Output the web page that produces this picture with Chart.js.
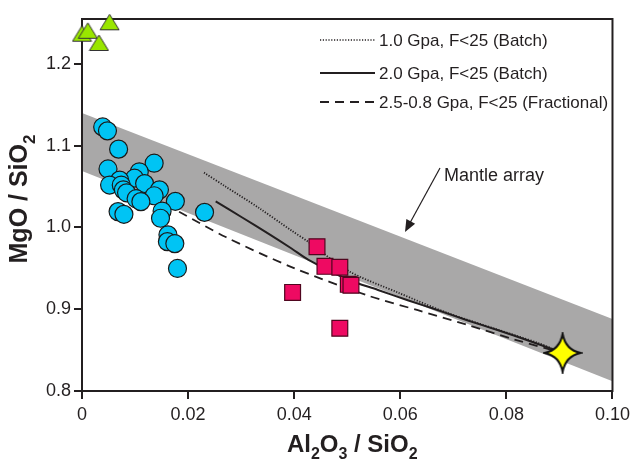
<!DOCTYPE html>
<html>
<head>
<meta charset="utf-8">
<script src="https://cdn.jsdelivr.net/npm/chart.js@4.4.1/dist/chart.umd.min.js"></script>
<style>
html, body { margin: 0; padding: 0; background: #fff; }
canvas { display: block; }
</style>
</head>
<body>
<canvas id="cvs" width="635" height="464"></canvas>
<script>
// axis ticks
var xTicks = [0, 0.02, 0.04, 0.06, 0.08, 0.10];
var yTicks = [0.8, 0.9, 1.0, 1.1, 1.2];

// mantle array band (upper / lower edge)
var bandX = [0, 0.10];
var bandTop = [1.140, 0.888];
var bandBottom = [1.069, 0.812];

// melting curves
var batch1X = [0.0230, 0.0271, 0.0333, 0.0395, 0.0427, 0.0502, 0.0595, 0.0689, 0.0783, 0.0858, 0.0906];
var batch1Y = [1.0671, 1.0499, 1.0241, 0.9962, 0.9823, 0.9469, 0.9206, 0.8955, 0.8752, 0.8591, 0.8466];
var batch2X = [0.0252, 0.0302, 0.0352, 0.0395, 0.0427, 0.0502, 0.0558, 0.0614, 0.0670, 0.0726, 0.0783, 0.0845, 0.0906];
var batch2Y = [1.0320, 1.0122, 0.9922, 0.9743, 0.9604, 0.9361, 0.9236, 0.9110, 0.8991, 0.8866, 0.8746, 0.8609, 0.8466];
var fracX = [0.0183, 0.0271, 0.0395, 0.0539, 0.0633, 0.0726, 0.0815, 0.0906];
var fracY = [1.0193, 0.9883, 0.9516, 0.9167, 0.8988, 0.8809, 0.8630, 0.8466];

// samples
var circleX = [0.0039, 0.0048, 0.0069, 0.0049, 0.0136, 0.0108, 0.0099, 0.0118, 0.0071, 0.0052, 0.0074, 0.0078, 0.0084,
	0.0146, 0.0136, 0.0102, 0.0111, 0.0176, 0.0151, 0.0148, 0.0068, 0.0079, 0.0231, 0.0162, 0.0161, 0.0175, 0.0180];
var circleY = [1.1230, 1.1182, 1.0958, 1.0716, 1.0786, 1.0681, 1.0603, 1.0537, 1.0579, 1.0519, 1.0519, 1.0460, 1.0424,
	1.0460, 1.0388, 1.0352, 1.0316, 1.0320, 1.0201, 1.0113, 1.0194, 1.0161, 1.0185, 0.9910, 0.9827, 0.9803, 0.9499];
var squareX = [0.0443, 0.0458, 0.0486, 0.0502, 0.0507, 0.0397, 0.0486];
var squareY = [0.9764, 0.9525, 0.9513, 0.9305, 0.9293, 0.9206, 0.8768];
var triX = [0.0000, 0.0011, 0.0032, 0.0052];
var triY = [1.2370, 1.2406, 1.2257, 1.2510];
var starX = [0.0906];
var starY = [0.8466];

var legendLabels = ["1.0 Gpa, F<25 (Batch)", "2.0 Gpa, F<25 (Batch)", "2.5-0.8 Gpa, F<25 (Fractional)"];
var bandLabel = "Mantle array";

var FONT = "'Liberation Sans', Arial, sans-serif";
var INK = "#231f20";
var DOTS = [1.2, 1.6];

function pts(xs, ys) {
	var out = [];
	for (var i = 0; i < xs.length; i++) {
		out.push({x: xs[i], y: ys[i]});
	}
	return out;
}

function makeStar() {
	var c = document.createElement("canvas");
	c.width = 40;
	c.height = 42;
	var g = c.getContext("2d");
	var cx = 20, cy = 21, rv = 19, rh = 18, k = 3;
	g.beginPath();
	g.moveTo(cx, cy - rv);
	g.quadraticCurveTo(cx + k, cy - k, cx + rh, cy);
	g.quadraticCurveTo(cx + k, cy + k, cx, cy + rv);
	g.quadraticCurveTo(cx - k, cy + k, cx - rh, cy);
	g.quadraticCurveTo(cx - k, cy - k, cx, cy - rv);
	g.closePath();
	g.fillStyle = "#ffff00";
	g.fill();
	g.lineWidth = 2;
	g.lineJoin = "miter";
	g.strokeStyle = "#111";
	g.stroke();
	return c;
}

function makeTriangle() {
	var c = document.createElement("canvas");
	c.width = 21;
	c.height = 18;
	var g = c.getContext("2d");
	g.beginPath();
	g.moveTo(10.5, 1);
	g.lineTo(20, 16.5);
	g.lineTo(1, 16.5);
	g.closePath();
	g.fillStyle = "#99e600";
	g.fill();
	g.lineWidth = 1;
	g.strokeStyle = "#333";
	g.stroke();
	return c;
}

// text with subscripts, parts = [[text, isSub], ...]
function drawSubText(ctx, parts, size) {
	var subSize = Math.round(size * 0.68);
	var total = 0;
	var i;
	for (i = 0; i < parts.length; i++) {
		ctx.font = "bold " + (parts[i][1] ? subSize : size) + "px " + FONT;
		total += ctx.measureText(parts[i][0]).width;
	}
	var x = -total / 2;
	ctx.textAlign = "left";
	ctx.textBaseline = "alphabetic";
	for (i = 0; i < parts.length; i++) {
		ctx.font = "bold " + (parts[i][1] ? subSize : size) + "px " + FONT;
		ctx.fillText(parts[i][0], x, parts[i][1] ? size * 0.3 : 0);
		x += ctx.measureText(parts[i][0]).width;
	}
}

var decor = {
	id: "decor",
	afterDatasetDraw: function(chart, args) {
		// frame goes on top of the band but under the curves and symbols
		if (args.index !== 0) return;
		var a = chart.chartArea;
		var ctx = chart.ctx;
		ctx.save();
		ctx.strokeStyle = INK;
		ctx.lineWidth = 2;
		ctx.strokeRect(a.left, a.top, a.right - a.left, a.bottom - a.top);
		ctx.restore();
	},
	afterDraw: function(chart) {
		var ctx = chart.ctx;
		var a = chart.chartArea;
		ctx.save();
		ctx.fillStyle = INK;

		// axis titles
		ctx.save();
		ctx.translate((a.left + a.right) / 2 + 5, 452);
		drawSubText(ctx, [["Al", false], ["2", true], ["O", false], ["3", true], [" / SiO", false], ["2", true]], 24);
		ctx.restore();

		ctx.save();
		ctx.translate(27, (a.top + a.bottom) / 2 - 6);
		ctx.rotate(-Math.PI / 2);
		drawSubText(ctx, [["MgO / SiO", false], ["2", true]], 25);
		ctx.restore();

		// legend
		var rows = [40, 73, 102];
		var dashes = [DOTS, [], [9, 6]];
		var widths = [1.6, 2, 1.8];
		for (var i = 0; i < legendLabels.length; i++) {
			ctx.beginPath();
			ctx.setLineDash(dashes[i]);
			ctx.lineWidth = widths[i];
			ctx.strokeStyle = INK;
			ctx.moveTo(320, rows[i]);
			ctx.lineTo(375, rows[i]);
			ctx.stroke();
			ctx.setLineDash([]);
			ctx.font = "17px " + FONT;
			ctx.textAlign = "left";
			ctx.textBaseline = "middle";
			ctx.fillText(legendLabels[i], 379, rows[i] + 1);
		}

		// mantle array note and arrow
		ctx.font = "18px " + FONT;
		ctx.textAlign = "left";
		ctx.textBaseline = "alphabetic";
		ctx.fillText(bandLabel, 444, 181);
		var x0 = 440, y0 = 168, x1 = 405, y1 = 232;
		var ang = Math.atan2(y1 - y0, x1 - x0);
		ctx.beginPath();
		ctx.lineWidth = 1.2;
		ctx.strokeStyle = INK;
		ctx.moveTo(x0, y0);
		ctx.lineTo(x1 - 8 * Math.cos(ang), y1 - 8 * Math.sin(ang));
		ctx.stroke();
		ctx.beginPath();
		ctx.moveTo(x1, y1);
		ctx.lineTo(x1 - 12 * Math.cos(ang) + 5 * Math.sin(ang), y1 - 12 * Math.sin(ang) - 5 * Math.cos(ang));
		ctx.lineTo(x1 - 12 * Math.cos(ang) - 5 * Math.sin(ang), y1 - 12 * Math.sin(ang) + 5 * Math.cos(ang));
		ctx.closePath();
		ctx.fill();
		ctx.restore();
	}
};

function curve(xs, ys, dash, width) {
	return {
		data: pts(xs, ys),
		showLine: true,
		borderColor: INK,
		borderWidth: width,
		borderDash: dash,
		pointRadius: 0,
		fill: false,
		tension: 0.3,
		order: 5
	};
}

new Chart(document.getElementById("cvs"), {
	type: "line",
	data: {
		datasets: [
			{
				data: pts(bandX, bandTop),
				borderColor: "rgba(0,0,0,0)",
				borderWidth: 0,
				pointRadius: 0,
				fill: false,
				order: 10
			},
			{
				data: pts(bandX, bandBottom),
				borderColor: "rgba(0,0,0,0)",
				borderWidth: 0,
				backgroundColor: "#a9a8a8",
				pointRadius: 0,
				fill: "-1",
				order: 10
			},
			curve(batch1X, batch1Y, DOTS, 1.8),
			curve(batch2X, batch2Y, [], 2),
			curve(fracX, fracY, [9, 6], 1.8),
			{
				data: pts(circleX, circleY),
				showLine: false,
				pointStyle: "circle",
				pointRadius: 9,
				pointBackgroundColor: "#00c4f4",
				pointBorderColor: "#1a1a1a",
				pointBorderWidth: 1.2,
				order: 2
			},
			{
				data: pts(squareX, squareY),
				showLine: false,
				pointStyle: "rect",
				pointRadius: 11.2,
				pointBackgroundColor: "#ee0a62",
				pointBorderColor: "#50061f",
				pointBorderWidth: 1.2,
				order: 2
			},
			{
				data: pts(triX, triY),
				showLine: false,
				pointStyle: makeTriangle(),
				pointRadius: 9,
				clip: false,
				order: 1
			},
			{
				data: pts(starX, starY),
				showLine: false,
				pointStyle: makeStar(),
				pointRadius: 18,
				clip: false,
				order: 0
			}
		]
	},
	options: {
		responsive: false,
		maintainAspectRatio: false,
		animation: false,
		events: [],
		layout: {
			padding: {top: 10, right: 19, left: 0, bottom: 0}
		},
		plugins: {
			legend: { display: false },
			tooltip: { enabled: false },
			title: { display: false }
		},
		scales: {
			x: {
				type: "linear",
				min: 0,
				max: 0.10,
				afterBuildTicks: function(scale) {
					scale.ticks = xTicks.map(function(v) { return {value: v}; });
				},
				afterFit: function(scale) { scale.height = 73; },
				border: { display: false },
				grid: {
					drawOnChartArea: false,
					drawTicks: true,
					tickLength: 8,
					lineWidth: 2,
					color: INK
				},
				ticks: {
					color: INK,
					padding: 5,
					maxRotation: 0,
					font: { family: FONT, size: 18 },
					callback: function(v) { return v === 0 ? "0" : v.toFixed(2); }
				}
			},
			y: {
				type: "linear",
				min: 0.8,
				max: 1.255,
				afterBuildTicks: function(scale) {
					scale.ticks = yTicks.map(function(v) { return {value: v}; });
				},
				afterFit: function(scale) { scale.width = 82; },
				border: { display: false },
				grid: {
					drawOnChartArea: false,
					drawTicks: true,
					tickLength: 8,
					lineWidth: 2,
					color: INK
				},
				ticks: {
					color: INK,
					padding: 3,
					font: { family: FONT, size: 18 },
					callback: function(v) { return v.toFixed(1); }
				}
			}
		}
	},
	plugins: [decor]
});
</script>
</body>
</html>
